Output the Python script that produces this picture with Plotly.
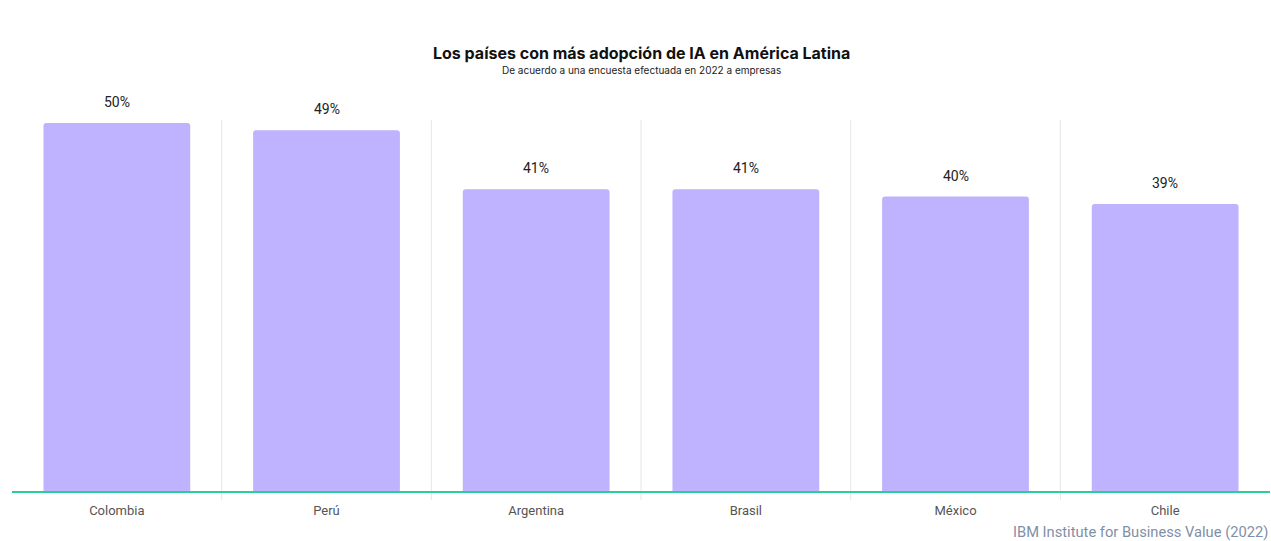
import plotly.graph_objects as go

categories = ["Colombia", "Perú", "Argentina", "Brasil", "México", "Chile"]
values = [50, 49, 41, 41, 40, 39]
labels = ["50%", "49%", "41%", "41%", "40%", "39%"]

fig = go.Figure()
fig.add_trace(go.Bar(
    x=categories, y=values,
    marker=dict(color="#bfb2ff", line=dict(width=0), cornerradius=3),
    width=0.7, hoverinfo="skip",
))

shapes = []
for i in range(len(categories) - 1):
    shapes.append(dict(type="line", xref="x", yref="paper", x0=i + 0.5, x1=i + 0.5,
                       y0=-0.025, y1=1, line=dict(color="#e6e6e6", width=1), layer="below"))

annotations = []
for c, v, t in zip(categories, values, labels):
    annotations.append(dict(x=c, y=v, text=t, showarrow=False, yanchor="middle", yshift=21,
                            font=dict(family="Roboto, Arial", size=14, color="#222222")))

annotations.append(dict(xref="paper", yref="paper", x=0.5, y=1, yshift=67, xanchor="center", yanchor="middle",
                        text="<b>Los países con más adopción de IA en América Latina</b>", showarrow=False,
                        font=dict(family="Inter, Roboto, Arial", size=16, color="#111111")))
annotations.append(dict(xref="paper", yref="paper", x=0.5, y=1, yshift=50, xanchor="center", yanchor="middle",
                        text="De acuerdo a una encuesta efectuada en 2022 a empresas", showarrow=False,
                        font=dict(family="Inter, Roboto, Arial", size=10, color="#222222")))
annotations.append(dict(xref="paper", yref="paper", x=1, y=0, yshift=-41, xanchor="right", yanchor="middle",
                        text="IBM Institute for Business Value (2022)", showarrow=False,
                        font=dict(family="Roboto, Arial", size=14.7, color="#7f8fa6")))

fig.update_layout(
    width=1271, height=541,
    margin=dict(l=12, r=1, t=120, b=50),
    paper_bgcolor="white", plot_bgcolor="white",
    showlegend=False, bargap=0.3, hovermode=False,
    shapes=shapes, annotations=annotations,
    xaxis=dict(showgrid=False, showline=True, linecolor="#2ecc9a", linewidth=2,
               ticks="", ticklabelstandoff=6,
               tickfont=dict(family="Roboto, Arial", size=13, color="#555555"),
               fixedrange=True),
    yaxis=dict(range=[0, 50.4], visible=False, showgrid=False, zeroline=False, fixedrange=True),
)

fig.write_html("out.html", include_plotlyjs=True, config={"displayModeBar": False},
               post_script="document.body.style.margin='0';document.body.style.overflow='hidden';")
